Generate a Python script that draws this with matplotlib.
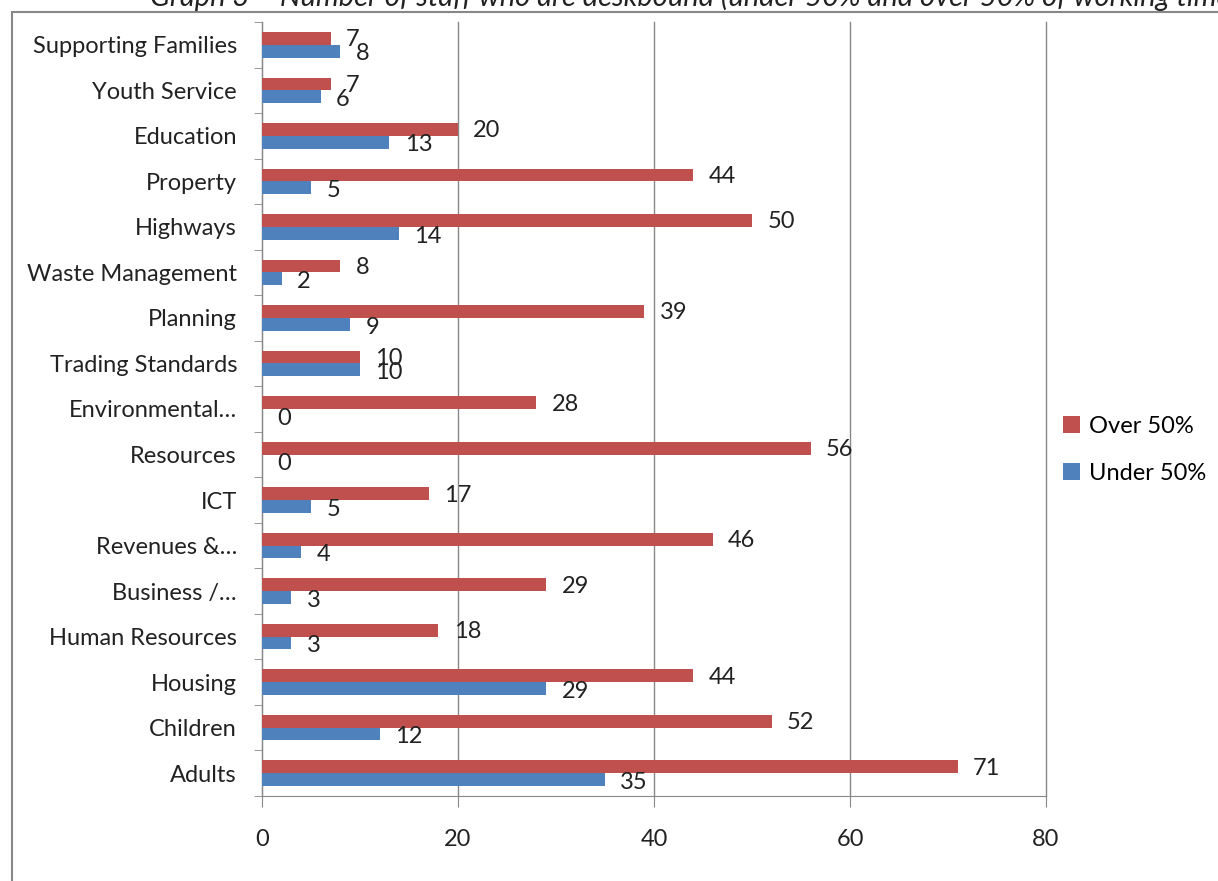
import matplotlib.pyplot as plt
import matplotlib.patches as mpatches
import numpy as np

plt.rcParams['font.family'] = ['Lato', 'DejaVu Sans']

categories = ['Supporting Families', 'Youth Service', 'Education', 'Property',
              'Highways', 'Waste Management', 'Planning', 'Trading Standards',
              'Environmental\u2026', 'Resources', 'ICT', 'Revenues &\u2026',
              'Business /\u2026', 'Human Resources', 'Housing', 'Children', 'Adults']
over50 = [7, 7, 20, 44, 50, 8, 39, 10, 28, 56, 17, 46, 29, 18, 44, 52, 71]
under50 = [8, 6, 13, 5, 14, 2, 9, 10, 0, 0, 5, 4, 3, 3, 29, 12, 35]
xticks = [0, 20, 40, 60, 80]

red = '#C0504D'
blue = '#4F81BD'
fs = 17

fig = plt.figure(figsize=(12.18, 8.81), dpi=100)
ax = fig.add_axes([262 / 1218, 1 - 796 / 881, (1046 - 262) / 1218, (796 - 22) / 881])

n = len(categories)
y = np.arange(n)[::-1]
h = 0.28
ax.barh(y + h / 2, over50, height=h, color=red, label='Over 50%', zorder=3)
ax.barh(y - h / 2, under50, height=h, color=blue, label='Under 50%', zorder=3)

for yi, v in zip(y, over50):
    ax.annotate(str(v), (v, yi + h / 2), xytext=(11, -1), textcoords='offset points',
                va='center', ha='left', fontsize=fs, color='#222222')
for yi, v in zip(y, under50):
    ax.annotate(str(v), (v, yi - h / 2), xytext=(11, -2), textcoords='offset points',
                va='center', ha='left', fontsize=fs, color='#222222')

ax.set_xlim(0, 80)
ax.set_ylim(-0.5, n - 0.5)
ax.set_xticks(xticks)
ax.set_xticklabels([str(t) for t in xticks], fontsize=fs)
ax.set_yticks(y)
ax.set_yticklabels(categories, fontsize=fs)
ax.set_yticks(np.arange(n + 1) - 0.5, minor=True)
ax.tick_params(axis='y', which='major', length=0, pad=18, colors='#222222')
ax.tick_params(axis='y', which='minor', length=6, color='#888888')
ax.tick_params(axis='x', length=8, pad=16, color='#888888', colors='#222222')
ax.grid(True, axis='x', color='#888888', linewidth=1, zorder=0)
for gl in ax.get_xgridlines():
    gl.set_clip_on(False)
for s in ['top', 'right']:
    ax.spines[s].set_visible(False)
ax.spines['left'].set_color('#888888')
ax.spines['bottom'].set_color('#888888')

ax.legend(loc='center left', bbox_to_anchor=(1042 / 1218, 1 - 450 / 881),
          bbox_transform=fig.transFigure, frameon=False, fontsize=fs,
          handlelength=0.7, handleheight=0.7, handletextpad=0.4, labelspacing=1.1)

# chart border
fig.patches.append(mpatches.Rectangle((12 / 1218, -0.05), 1.1, 1 - 12 / 881 + 0.05,
                                      transform=fig.transFigure, fill=False,
                                      edgecolor='#888888', linewidth=1.5))

fig.text(150 / 1218, 1 + 3 / 881, 'Graph 3 \u2013 Number of staff who are deskbound (under 50% and over 50% of working time)',
         fontsize=21, style='italic', va='center', ha='left', color='#222222')

fig.savefig('out.png', dpi=100)
